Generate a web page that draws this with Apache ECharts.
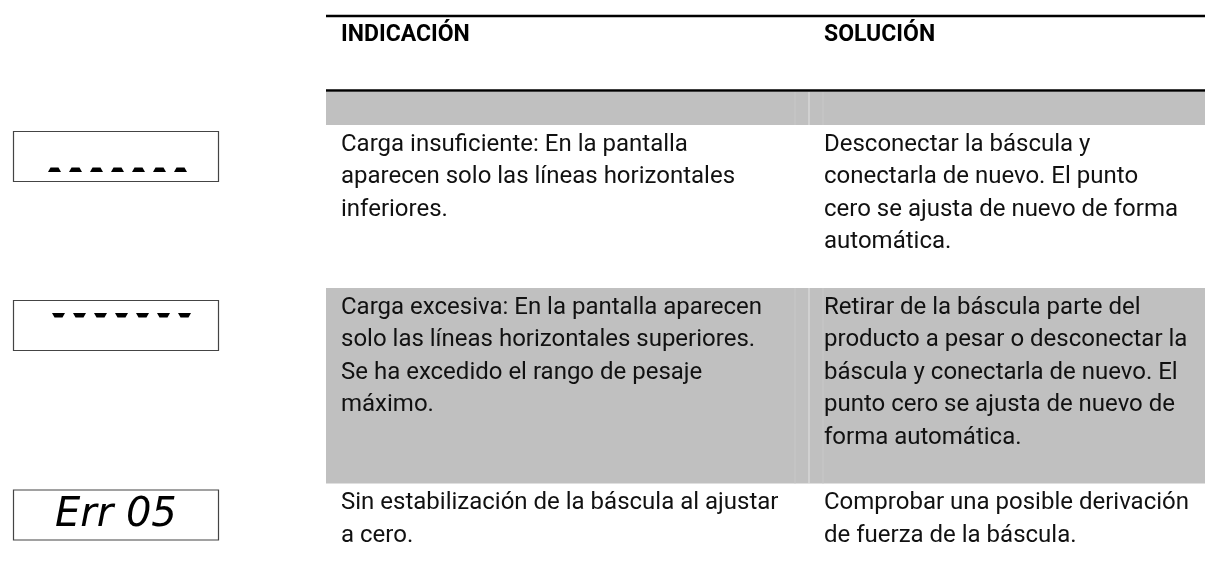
<!DOCTYPE html>
<html><head><meta charset="utf-8">
<script src="https://cdn.jsdelivr.net/npm/echarts@6/dist/echarts.min.js"></script>
<style>html,body{margin:0;padding:0;background:#fff}#c{width:1205px;height:576px}</style>
</head><body><div id="c"></div>
<script>
// ---- table content ----
const headers = ['INDICACIÓN', 'SOLUCIÓN'];
const displays = ['_______', '‾‾‾‾‾‾‾', 'Err 05'];
const indications = [
  'Carga insuficiente: En la pantalla\naparecen solo las líneas horizontales\ninferiores.',
  'Carga excesiva: En la pantalla aparecen\nsolo las líneas horizontales superiores.\nSe ha excedido el rango de pesaje\nmáximo.',
  'Sin estabilización de la báscula al ajustar\na cero.'
];
const solutions = [
  'Desconectar la báscula y\nconectarla de nuevo. El punto\ncero se ajusta de nuevo de forma\nautomática.',
  'Retirar de la báscula parte del\nproducto a pesar o desconectar la\nbáscula y conectarla de nuevo. El\npunto cero se ajusta de nuevo de\nforma automática.',
  'Comprobar una posible derivación\nde fuerza de la báscula.'
];
const shaded = [false, true, false];

// ---- layout ----
const W = 1205;
const tableLeft = 326, colSplit = 809, pad = 15;
const topRule = 16, headRule = 90.5, bandTop = 92, bandBottom = 125;
const lineH = 32.5, fontSize = 24;
const bodyFont = 'Roboto, "Noto Sans", sans-serif';
const grey = '#c0c0c0';
const lcdX = 13, lcdW = 205, lcdH = 50, lcdOffset = [6, 12, 6];

const chart = echarts.init(document.getElementById('c'), null, {renderer: 'canvas'});
const els = [];

// rules and header
els.push({type: 'rect', shape: {x: tableLeft, y: topRule - 1.25, width: W - tableLeft, height: 2.5}, style: {fill: '#000'}});
els.push({type: 'rect', shape: {x: tableLeft, y: headRule - 1.25, width: W - tableLeft, height: 2.5}, style: {fill: '#000'}});
els.push({type: 'rect', shape: {x: tableLeft, y: bandTop, width: W - tableLeft, height: bandBottom - bandTop}, style: {fill: grey}});
const colX = [tableLeft + pad, colSplit + pad];
headers.forEach((h, i) => {
  els.push({type: 'text', x: colX[i], y: 35, style: {text: h, fontFamily: bodyFont, fontWeight: 'bold', fontSize: 23, fill: '#000', textAlign: 'left', textVerticalAlign: 'middle'}});
});
function seps(y0, y1) {
  els.push({type: 'rect', shape: {x: colSplit - 14.5, y: y0, width: 1, height: y1 - y0}, style: {fill: '#c8c8c8'}});
  els.push({type: 'rect', shape: {x: colSplit - 0.5, y: y0, width: 1, height: y1 - y0}, style: {fill: '#e2e2e2'}});
  els.push({type: 'rect', shape: {x: colSplit + 13.5, y: y0, width: 1, height: y1 - y0}, style: {fill: '#c8c8c8'}});
}
seps(bandTop, bandBottom);

// rows
let rowTop = bandBottom;
indications.forEach((ind, r) => {
  const n = Math.max(ind.split('\n').length, solutions[r].split('\n').length);
  const h = n * lineH + 33;
  if (shaded[r]) {
    els.push({type: 'rect', shape: {x: tableLeft, y: rowTop, width: W - tableLeft, height: h}, style: {fill: grey}});
    seps(rowTop, rowTop + h);
  }
  [ind, solutions[r]].forEach((t, c) => {
    els.push({type: 'text', x: colX[c], y: rowTop + 3.25, style: {text: t, fontFamily: bodyFont, fontSize: fontSize, lineHeight: lineH, fill: '#111', textAlign: 'left', textVerticalAlign: 'top'}});
  });
  // LCD display
  const by = rowTop + lcdOffset[r];
  els.push({type: 'rect', shape: {x: lcdX + 0.5, y: by + 0.5, width: lcdW, height: lcdH}, style: {fill: 'none', stroke: '#444', lineWidth: 1.2}});
  const d = displays[r];
  if (/^[_‾]+$/.test(d)) {
    d.split('').forEach((ch, i) => {
      const bottom = ch === '_';
      const x0 = lcdX + (bottom ? 35 : 39) + i * 21, w = 13, inset = 2.5;
      let pts;
      if (bottom) {
        const yb = by + lcdH - 9, yt = yb - 4.5;
        pts = [[x0, yb], [x0 + w, yb], [x0 + w - inset, yt], [x0 + inset, yt]];
      } else {
        const yt = by + 13, yb = yt + 4.5;
        pts = [[x0, yt], [x0 + w, yt], [x0 + w - inset, yb], [x0 + inset, yb]];
      }
      els.push({type: 'polygon', shape: {points: pts}, style: {fill: '#000'}});
    });
  } else {
    els.push({type: 'text', x: lcdX + 42, y: by + lcdH / 2 + 1, style: {text: d, fontFamily: '"DejaVu Sans"', fontStyle: 'italic', fontSize: 40, fill: '#000', textAlign: 'left', textVerticalAlign: 'middle'}});
  }
  rowTop += h;
});

chart.setOption({animation: false, backgroundColor: '#fff', graphic: {elements: els}});
</script></body></html>
